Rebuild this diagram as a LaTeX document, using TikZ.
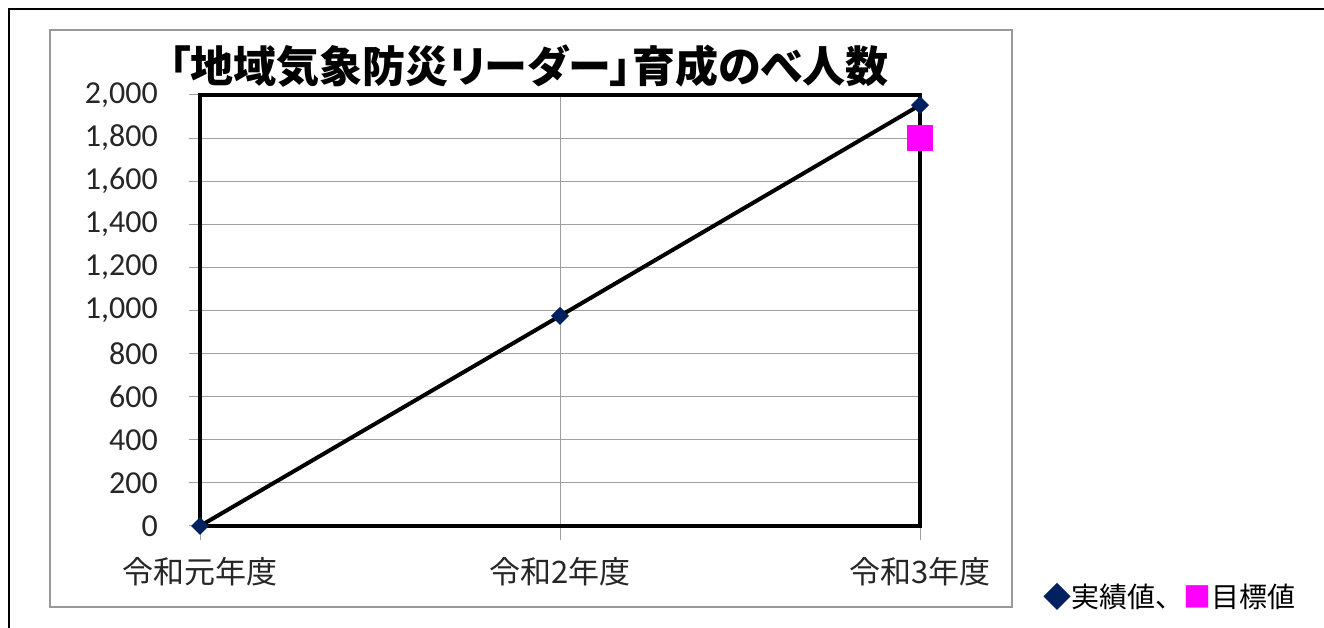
\documentclass[tikz,border=0pt]{standalone}
\usepackage{fontspec}
\newfontfamily\jp{Noto Sans CJK JP}
\newfontfamily\jptitel[RawFeature=+palt]{Noto Sans CJK JP}
\newfontfamily\zahl{Carlito}
\usetikzlibrary{positioning}
\usetikzlibrary{shapes.geometric}
\definecolor{navy}{HTML}{002060}
\definecolor{pink}{HTML}{FF00FF}
\tikzset{
  Gitter/.style={gray!75, line width=1pt}, % Hilfslinien
  Rahmen/.style={black, line width=3.5pt},
  Linie/.style={black, line width=4pt, line join=round},
  Ist/.style={diamond, fill=navy, inner sep=0pt, minimum size=18pt},
  Soll/.style={rectangle, fill=pink, inner sep=0pt, minimum size=26pt},
  YText/.style={font=\zahl\fontsize{32}{32}\selectfont, anchor=east, inner sep=0pt, text=black!85},
  XText/.style={font=\jp\fontsize{31}{31}\selectfont, inner sep=0pt, text=black!85}
}
\begin{document}
\begin{tikzpicture}[x=1pt, y=1pt]
\useasboundingbox (0,0) rectangle (1324,628);

%Rahmen aussen
\draw[line width=2.5pt] (9,0) -- (9,619) -- (1324,619);

%Diagrammflaeche
\node[draw=gray!80, line width=1.5pt, minimum width=962pt, minimum height=577pt, inner sep=0pt] (Diagramm) at (531,309.5) {};
\node[font=\jptitel\bfseries\fontsize{43}{43}\selectfont, inner sep=0pt] (Titel) at (529,562) {「地域気象防災リーダー」育成のべ人数};

\begin{scope}[shift={(200pt,102pt)}, x=360pt, y=0.2155pt]
  %Gitter
  \foreach \v in {200,400,...,1800}
    \draw[Gitter] (-0.03,\v) -- (2,\v);
  \draw[Gitter] (1,-65) -- (1,2000);
  \foreach \k in {0,2}
    \draw[Gitter] (\k,-65) -- (\k,0);
  \draw[Gitter] (-0.03,0) -- (0,0);
  \draw[Gitter] (-0.03,2000) -- (0,2000);
  \draw[Rahmen] (0,0) rectangle (2,2000);

  %Achsenbeschriftung
  \foreach \v/\t in {0/0,200/200,400/400,600/600,800/800,1000/{1,000},1200/{1,200},1400/{1,400},1600/{1,600},1800/{1,800},2000/{2,000}}
    \node[YText] (Y\v) at ([xshift=-42pt]0,\v) {\t};
  \node[XText] (X0) at ([yshift=-46pt]0,0) {令和元年度};
  \node[XText] (X1) at ([yshift=-46pt]1,0) {令和2年度};
  \node[XText] (X2) at ([yshift=-46pt]2,0) {令和3年度};

  %Werte
  \coordinate (c0) at (0,0);
  \coordinate (c1) at (1,975);
  \coordinate (c2) at (2,1953);
  \draw[Linie] (c0) -- (c1) -- (c2);
  \node[Ist] (P0) at (c0) {};
  \node[Ist] (P1) at (c1) {};
  \node[Ist] (P2) at (c2) {};
  \node[Soll] (Z2) at (2,1800) {};
\end{scope}

%Legende
\node[font=\jp\fontsize{28}{28}\selectfont, anchor=west, inner sep=0pt] (Legende) at (1043,31)
  {{\color{navy}◆}実績値、{\color{pink}■}目標値};
\end{tikzpicture}
\end{document}
